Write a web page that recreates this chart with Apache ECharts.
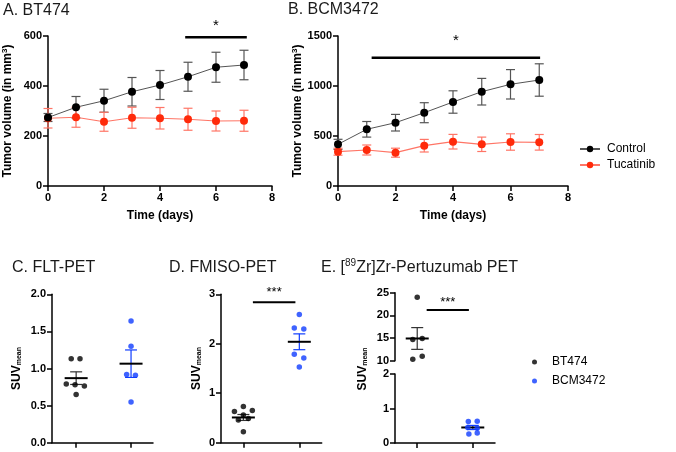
<!DOCTYPE html>
<html>
<head>
<meta charset="utf-8">
<script src="https://cdn.jsdelivr.net/npm/echarts@6/dist/echarts.min.js"></script>
<style>
html, body { margin: 0; padding: 0; background: #fff; }
#chart { width: 676px; height: 452px; }
</style>
</head>
<body>
<div id="chart"></div>
<script>
const FONT = 'Liberation Sans, Arial, sans-serif'

// A / B: tumor volume over time (mean ± error)
const days = [0, 1, 2, 3, 4, 5, 6, 7]
const bt474Control = [274, 315, 341, 377, 404, 437, 475, 484]
const bt474ControlErr = [16, 43, 46, 57, 58, 58, 60, 59]
const bt474Tucatinib = [271, 275, 257, 273, 271, 267, 260, 261]
const bt474TucatinibErr = [39, 40, 38, 42, 43, 44, 40, 42]
const bcmControl = [417, 567, 633, 733, 840, 943, 1017, 1060]
const bcmControlErr = [50, 78, 83, 100, 112, 133, 147, 162]
const bcmTucatinib = [343, 360, 333, 403, 443, 417, 440, 437]
const bcmTucatinibErr = [35, 50, 45, 63, 73, 72, 82, 78]

// C / D / E: SUVmean per animal, group index 0 = BT474, 1 = BCM3472
const fltBT474 = [1.13, 1.13, 0.79, 0.78, 0.765, 0.65]
const fltBT474Jitter = [-0.09, 0.07, -0.18, -0.02, 0.15, 0]
const fltBCM = [1.64, 1.30, 0.92, 0.91, 0.55]
const fltBCMJitter = [0, 0, -0.08, 0.08, 0]
const fltMean = [0.87, 1.065]
const fltSem = [0.085, 0.185]

const fmisoBT474 = [0.73, 0.65, 0.63, 0.56, 0.49, 0.46, 0.22]
const fmisoBT474Jitter = [0, 0.16, -0.16, 0, 0.09, -0.09, 0]
const fmisoBCM = [2.59, 2.32, 2.30, 1.79, 1.71, 1.53]
const fmisoBCMJitter = [0, -0.09, 0.08, -0.09, 0.08, 0]
const fmisoMean = [0.51, 2.04]
const fmisoSem = [0.06, 0.16]

const pertBT474 = [24.0, 14.7, 14.9, 10.3, 11.0]
const pertBT474Jitter = [0, -0.08, 0.09, -0.08, 0.09]
const pertBCM = [0.62, 0.63, 0.45, 0.43, 0.26, 0.29]
const pertBCMJitter = [-0.08, 0.08, -0.09, 0.08, -0.07, 0.08]
const pertMean = [14.9, 0.45]
const pertSem = [2.4, 0.06]

// significance bars: [x0, x1, y, labelX, labelY]
const sigA = [[4.9, 7.1, 595, 6, 641]]
const sigB = [[1.17, 7.03, 1283, 4.1, 1453]]
const sigD = [[0.17, 0.93, 2.84, 0.55, 3.04]]
const sigE = [[0.17, 0.93, 21.2, 0.55, 22.9]]

const BLUE = '#0f3cff'
const RED = '#ff2a0a'
const RED_LINE = '#ff7566'

const series2d = (xs, ys) => xs.map((x, i) => [x, ys[i]])
const series3d = (xs, ys, es) => xs.map((x, i) => [x, ys[i], es[i]])
const points = (vals, jit, g) => vals.map((v, i) => [g + jit[i], v])

function errorBars(capHalf, color, width) {
  return function (params, api) {
    const x = api.value(0), y = api.value(1), e = api.value(2)
    const top = api.coord([x, y + e])
    const bot = api.coord([x, y - e])
    const style = { stroke: color, lineWidth: width, fill: null }
    return {
      type: 'group',
      children: [
        { type: 'line', shape: { x1: top[0], y1: top[1], x2: bot[0], y2: bot[1] }, style },
        { type: 'line', shape: { x1: top[0] - capHalf, y1: top[1], x2: top[0] + capHalf, y2: top[1] }, style },
        { type: 'line', shape: { x1: bot[0] - capHalf, y1: bot[1], x2: bot[0] + capHalf, y2: bot[1] }, style }
      ]
    }
  }
}

function meanSem(color) {
  const bars = errorBars(6, color, 1.2)
  return function (params, api) {
    const g = bars(params, api)
    const c = api.coord([api.value(0), api.value(1)])
    g.children.push({
      type: 'line',
      shape: { x1: c[0] - 11.5, y1: c[1], x2: c[0] + 11.5, y2: c[1] },
      style: { stroke: '#000', lineWidth: 2 }
    })
    return g
  }
}

function sigBar(label, fontSize, lineWidth) {
  return function (params, api) {
    const a = api.coord([api.value(0), api.value(2)])
    const b = api.coord([api.value(1), api.value(2)])
    const t = api.coord([api.value(3), api.value(4)])
    return {
      type: 'group',
      children: [
        { type: 'line', shape: { x1: a[0], y1: a[1], x2: b[0], y2: b[1] }, style: { stroke: '#000', lineWidth } },
        { type: 'text', x: t[0], y: t[1], style: { text: label, fill: '#000', font: `${fontSize}px ${FONT}`, align: 'center', verticalAlign: 'middle' } }
      ]
    }
  }
}

const axisLine = { show: true, onZero: false, lineStyle: { color: '#000', width: 1.5 } }
const axisTick = { show: true, length: 5, lineStyle: { color: '#000', width: 1.5 } }
const axisLabel = { color: '#000', fontWeight: 'bold', fontSize: 11, fontFamily: FONT, margin: 6, formatter: v => String(v) }
const nameStyle = { color: '#000', fontWeight: 'bold', fontSize: 12, fontFamily: FONT }
const suvRich = {
  a: { fontWeight: 'bold', fontSize: 12, fontFamily: FONT, color: '#000', verticalAlign: 'bottom', lineHeight: 14 },
  b: { fontWeight: 'bold', fontSize: 7, fontFamily: FONT, color: '#000', verticalAlign: 'bottom', lineHeight: 11 }
}

function timeAxis(gridIndex) {
  return {
    type: 'value', gridIndex, min: 0, max: 8, interval: 2,
    name: 'Time (days)', nameLocation: 'middle', nameGap: 24, nameTextStyle: nameStyle,
    axisLine, axisTick, axisLabel, splitLine: { show: false }
  }
}
function groupAxis(gridIndex, min, show) {
  return {
    type: 'value', gridIndex, min, max: 1.4, show,
    axisLine, axisTick: Object.assign({ customValues: [0, 1] }, axisTick),
    axisLabel: { show: false }, splitLine: { show: false }
  }
}
function valueAxis(gridIndex, min, max, interval, extra) {
  return Object.assign({
    type: 'value', gridIndex, min, max, interval,
    axisLine, axisTick, axisLabel, splitLine: { show: false }
  }, extra || {})
}

const tumorName = {
  name: 'Tumor volume (in mm{sup|3})', nameLocation: 'middle', nameGap: 33,
  nameTextStyle: Object.assign({}, nameStyle, {
    rich: { sup: { fontWeight: 'bold', fontSize: 8, fontFamily: FONT, color: '#000', verticalAlign: 'top', padding: [0, 0, 6, 0] } }
  })
}

const chart = echarts.init(document.getElementById('chart'))

const titleStyle = { fill: '#1a1a1a', font: `16px ${FONT}`, verticalAlign: 'middle' }

chart.setOption({
  animation: false,
  backgroundColor: '#fff',
  textStyle: { fontFamily: FONT },
  grid: [
    { left: 48, top: 36, width: 224, height: 150 },
    { left: 338, top: 36, width: 230, height: 150 },
    { left: 52, top: 294.3, width: 101, height: 148.4 },
    { left: 221, top: 294.3, width: 100.7, height: 148.4 },
    { left: 395, top: 292.7, width: 100, height: 68 },
    { left: 395, top: 374, width: 100, height: 69 }
  ],
  xAxis: [
    timeAxis(0),
    timeAxis(1),
    groupAxis(2, -0.44, true),
    groupAxis(3, -0.4, true),
    groupAxis(4, -0.4, false),
    groupAxis(5, -0.4, true)
  ],
  yAxis: [
    valueAxis(0, 0, 600, 200, tumorName),
    valueAxis(1, 0, 1500, 500, tumorName),
    valueAxis(2, 0, 2, 0.5, {
      axisLabel: Object.assign({}, axisLabel, { formatter: v => v.toFixed(1) }),
      name: '{a|SUV}{b|mean}', nameLocation: 'middle', nameGap: 29, nameTextStyle: { rich: suvRich }
    }),
    valueAxis(3, 0, 3, 1, {
      name: '{a|SUV}{b|mean}', nameLocation: 'middle', nameGap: 18, nameTextStyle: { rich: suvRich }
    }),
    valueAxis(4, 10, 25, 5),
    valueAxis(5, 0, 2, 1)
  ],
  legend: [
    {
      data: ['Control', 'Tucatinib'], orient: 'vertical', left: 574, top: 138,
      itemWidth: 20, itemHeight: 8, itemGap: 4,
      textStyle: { color: '#000', fontSize: 12, fontFamily: FONT, padding: [0, 0, 0, 2] }
    },
    {
      data: ['BT474', 'BCM3472'], orient: 'vertical', left: 527, top: 351,
      icon: 'circle', itemWidth: 5, itemHeight: 5, itemGap: 7,
      textStyle: { color: '#000', fontSize: 12, fontFamily: FONT, padding: [0, 0, 0, 10] }
    }
  ],
  graphic: [
    { type: 'text', left: 3, top: 3, style: Object.assign({ text: 'A. BT474' }, titleStyle) },
    { type: 'text', left: 288, top: 2, style: Object.assign({ text: 'B. BCM3472' }, titleStyle) },
    { type: 'text', left: 12, top: 260, style: Object.assign({ text: 'C. FLT-PET' }, titleStyle) },
    { type: 'text', left: 169, top: 260, style: Object.assign({ text: 'D. FMISO-PET' }, titleStyle) },
    {
      type: 'text', left: 321, top: 258,
      style: {
        text: '{n|E. [}{s|89}{n|Zr]Zr-Pertuzumab PET}',
        rich: {
          n: { fill: '#1a1a1a', fontSize: 16, fontFamily: FONT, verticalAlign: 'bottom', lineHeight: 18 },
          s: { fill: '#1a1a1a', fontSize: 10, fontFamily: FONT, verticalAlign: 'top', lineHeight: 18 }
        }
      }
    },
    {
      type: 'text', x: 362, y: 369, rotation: Math.PI / 2,
      style: {
        text: '{a|SUV}{b|mean}', align: 'center', verticalAlign: 'middle',
        rich: {
          a: { fill: '#000', fontWeight: 'bold', fontSize: 12, fontFamily: FONT, verticalAlign: 'bottom', lineHeight: 14 },
          b: { fill: '#000', fontWeight: 'bold', fontSize: 7, fontFamily: FONT, verticalAlign: 'bottom', lineHeight: 11 }
        }
      }
    }
  ],
  series: [
    // A
    { type: 'custom', name: 'errA1', xAxisIndex: 0, yAxisIndex: 0, renderItem: errorBars(4.5, '#555', 1.2), data: series3d(days, bt474Control, bt474ControlErr), z: 2 },
    { type: 'custom', name: 'errA2', xAxisIndex: 0, yAxisIndex: 0, renderItem: errorBars(4.5, RED_LINE, 1.2), data: series3d(days, bt474Tucatinib, bt474TucatinibErr), z: 2 },
    {
      type: 'line', name: 'Tucatinib', xAxisIndex: 0, yAxisIndex: 0, data: series2d(days, bt474Tucatinib),
      symbol: 'circle', symbolSize: 8, itemStyle: { color: RED }, lineStyle: { color: RED_LINE, width: 1.2 }, z: 3
    },
    {
      type: 'line', name: 'Control', xAxisIndex: 0, yAxisIndex: 0, data: series2d(days, bt474Control),
      symbol: 'circle', symbolSize: 8, itemStyle: { color: '#000' }, lineStyle: { color: '#555', width: 1 }, z: 4
    },
    { type: 'custom', name: 'sigA', xAxisIndex: 0, yAxisIndex: 0, renderItem: sigBar('*', 15, 2.5), data: sigA, z: 5 },
    // B
    { type: 'custom', name: 'errB1', xAxisIndex: 1, yAxisIndex: 1, renderItem: errorBars(4.5, '#555', 1.2), data: series3d(days, bcmControl, bcmControlErr), z: 2 },
    { type: 'custom', name: 'errB2', xAxisIndex: 1, yAxisIndex: 1, renderItem: errorBars(4.5, RED_LINE, 1.2), data: series3d(days, bcmTucatinib, bcmTucatinibErr), z: 2 },
    {
      type: 'line', name: 'Tucatinib', xAxisIndex: 1, yAxisIndex: 1, data: series2d(days, bcmTucatinib),
      symbol: 'circle', symbolSize: 8, itemStyle: { color: RED }, lineStyle: { color: RED_LINE, width: 1.2 }, z: 3
    },
    {
      type: 'line', name: 'Control', xAxisIndex: 1, yAxisIndex: 1, data: series2d(days, bcmControl),
      symbol: 'circle', symbolSize: 8, itemStyle: { color: '#000' }, lineStyle: { color: '#555', width: 1 }, z: 4
    },
    { type: 'custom', name: 'sigB', xAxisIndex: 1, yAxisIndex: 1, renderItem: sigBar('*', 15, 2.5), data: sigB, z: 5 },
    // C
    { type: 'scatter', name: 'BT474', xAxisIndex: 2, yAxisIndex: 2, symbolSize: 5.5, itemStyle: { color: '#000' }, data: points(fltBT474, fltBT474Jitter, 0) },
    { type: 'scatter', name: 'BCM3472', xAxisIndex: 2, yAxisIndex: 2, symbolSize: 5.5, itemStyle: { color: BLUE }, data: points(fltBCM, fltBCMJitter, 1) },
    { type: 'custom', name: 'semC0', xAxisIndex: 2, yAxisIndex: 2, renderItem: meanSem('#333'), data: [[0, fltMean[0], fltSem[0]]] },
    { type: 'custom', name: 'semC1', xAxisIndex: 2, yAxisIndex: 2, renderItem: meanSem(BLUE), data: [[1, fltMean[1], fltSem[1]]] },
    // D
    { type: 'scatter', name: 'BT474', xAxisIndex: 3, yAxisIndex: 3, symbolSize: 5.5, itemStyle: { color: '#000' }, data: points(fmisoBT474, fmisoBT474Jitter, 0) },
    { type: 'scatter', name: 'BCM3472', xAxisIndex: 3, yAxisIndex: 3, symbolSize: 5.5, itemStyle: { color: BLUE }, data: points(fmisoBCM, fmisoBCMJitter, 1) },
    { type: 'custom', name: 'semD0', xAxisIndex: 3, yAxisIndex: 3, renderItem: meanSem('#333'), data: [[0, fmisoMean[0], fmisoSem[0]]] },
    { type: 'custom', name: 'semD1', xAxisIndex: 3, yAxisIndex: 3, renderItem: meanSem(BLUE), data: [[1, fmisoMean[1], fmisoSem[1]]] },
    { type: 'custom', name: 'sigD', xAxisIndex: 3, yAxisIndex: 3, renderItem: sigBar('***', 13, 2), data: sigD },
    // E (broken axis: upper 10-25, lower 0-2)
    { type: 'scatter', name: 'BT474', xAxisIndex: 4, yAxisIndex: 4, symbolSize: 5.5, itemStyle: { color: '#000' }, data: points(pertBT474, pertBT474Jitter, 0) },
    { type: 'custom', name: 'semE0', xAxisIndex: 4, yAxisIndex: 4, renderItem: meanSem('#333'), data: [[0, pertMean[0], pertSem[0]]] },
    { type: 'custom', name: 'sigE', xAxisIndex: 4, yAxisIndex: 4, renderItem: sigBar('***', 13, 2), data: sigE },
    { type: 'scatter', name: 'BCM3472', xAxisIndex: 5, yAxisIndex: 5, symbolSize: 5.5, itemStyle: { color: BLUE }, data: points(pertBCM, pertBCMJitter, 1) },
    { type: 'custom', name: 'semE1', xAxisIndex: 5, yAxisIndex: 5, renderItem: meanSem(BLUE), data: [[1, pertMean[1], pertSem[1]]] }
  ]
})
</script>
</body>
</html>
